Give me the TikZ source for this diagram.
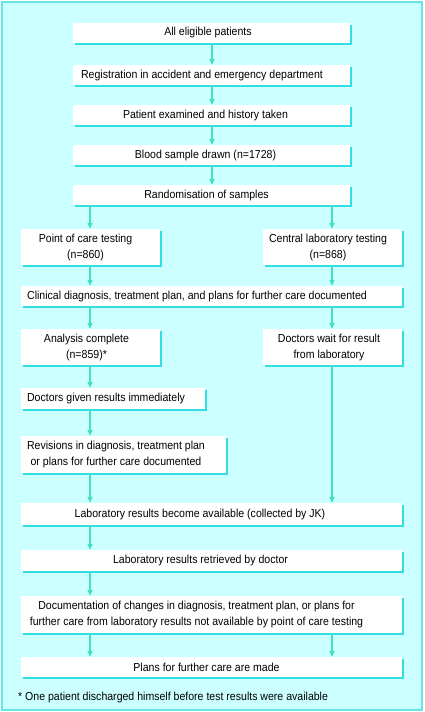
\documentclass[tikz,border=0pt]{standalone}
\usepackage{fontspec}
\setmainfont{Liberation Sans}[FakeStretch=0.91]
\usepackage{tikz}
\usetikzlibrary{shadows}
\usetikzlibrary{arrows.meta}
\usetikzlibrary{calc}
\definecolor{panelbg}{HTML}{CCFFFF}
\definecolor{panelframe}{HTML}{66E6E6}
\definecolor{boxshadow}{HTML}{33DDE0}
\definecolor{arrowgreen}{HTML}{40E0C0}
\tikzstyle{stepbox}=[rectangle,fill=white,draw=none,inner sep=0pt,drop shadow={shadow xshift=1.6pt,shadow yshift=-1.6pt,fill=boxshadow,opacity=1}]
\tikzstyle{boxtext}=[align=center,inner sep=0pt,font=\fontsize{11.6}{16}\selectfont]
\tikzstyle{edge} = [draw,line width=1.3pt,arrowgreen,-{Triangle[width=5pt,length=6pt]}]

\begin{document}
\begin{tikzpicture}[x=1pt,y=-1pt]

    % Panel
    \useasboundingbox (0,0) rectangle (424,712);
    \draw[panelframe, line width=2pt, fill=panelbg] (2,2) rectangle (422,710);

    % First we draw the boxes
    \foreach \pos/\name/\w/\h in {{(211.5,33)/allpat/277/20}, {(211.5,75)/reg/277/20}, {(211.5,115)/exam/277/20}, {(211.5,155)/blood/277/20}, {(211.5,195)/rand/277/20},
        {(90.5,247)/poc/139/36}, {(332.5,247)/central/139/36}, {(211.5,296)/clin/381/20}, {(90.5,347)/anal/139/36}, {(332.5,347)/wait/139/36},
        {(113,398.5)/given/184/21}, {(123.5,454.5)/rev/205/37}, {(211.5,514)/labav/381/22}, {(211.5,560.5)/retr/381/21}, {(211.5,614.5)/docu/381/37}, {(211.5,667)/plans/381/20}}
        \node[stepbox, minimum width=\w pt, minimum height=\h pt] (\name) at \pos {};

    % Then the texts
    \foreach \name/\dx/\label in {allpat/-3.5/{All eligible patients}, reg/-9.5/{Registration in accident and emergency department},
        exam/-6/{Patient examined and history taken}, blood/-6/{Blood sample drawn (n=1728)}, rand/-5/{Randomisation of samples},
        poc/-5/{Point of care testing\\(n=860)}, central/-4.5/{Central laboratory testing\\(n=868)},
        clin/-14.5/{Clinical diagnosis, treatment plan, and plans for further care documented},
        anal/-4/{Analysis complete\\(n=859)*}, wait/-3.5/{Doctors wait for result\\from laboratory},
        given/-7/{Doctors given results immediately}, rev/-7.5/{Revisions in diagnosis, treatment plan\\or plans for further care documented},
        labav/-11.5/{Laboratory results become available (collected by JK)}, retr/-11/{Laboratory results retrieved by doctor},
        docu/-15/{Documentation of changes in diagnosis, treatment plan, or plans for\\further care from laboratory results not available by point of care testing},
        plans/-5/{Plans for further care are made}}
        \node[boxtext] (\name-txt) at ([xshift=\dx pt]\name.center) {\label};

    % Columns for the arrows
    \coordinate (lcol) at (90,0);
    \coordinate (mcol) at (212,0);
    \coordinate (rcol) at (332,0);

    % Connect boxes with arrows
    \foreach \source/ \dest /\col in {allpat/reg/mcol, reg/exam/mcol, exam/blood/mcol, blood/rand/mcol, rand/poc/lcol, rand/central/rcol,
        poc/clin/lcol, central/clin/rcol, clin/anal/lcol, clin/wait/rcol, anal/given/lcol, given/rev/lcol, rev/labav/lcol, wait/labav/rcol,
        labav/retr/lcol, retr/docu/lcol, docu/plans/lcol, docu/plans/rcol}
        \path[edge] (\source.south -| \col) -- (\dest.north -| \col);

\node[boxtext, anchor=west] (footnote) at (18,697) {* One patient discharged himself before test results were available};

\end{tikzpicture}
\end{document}
